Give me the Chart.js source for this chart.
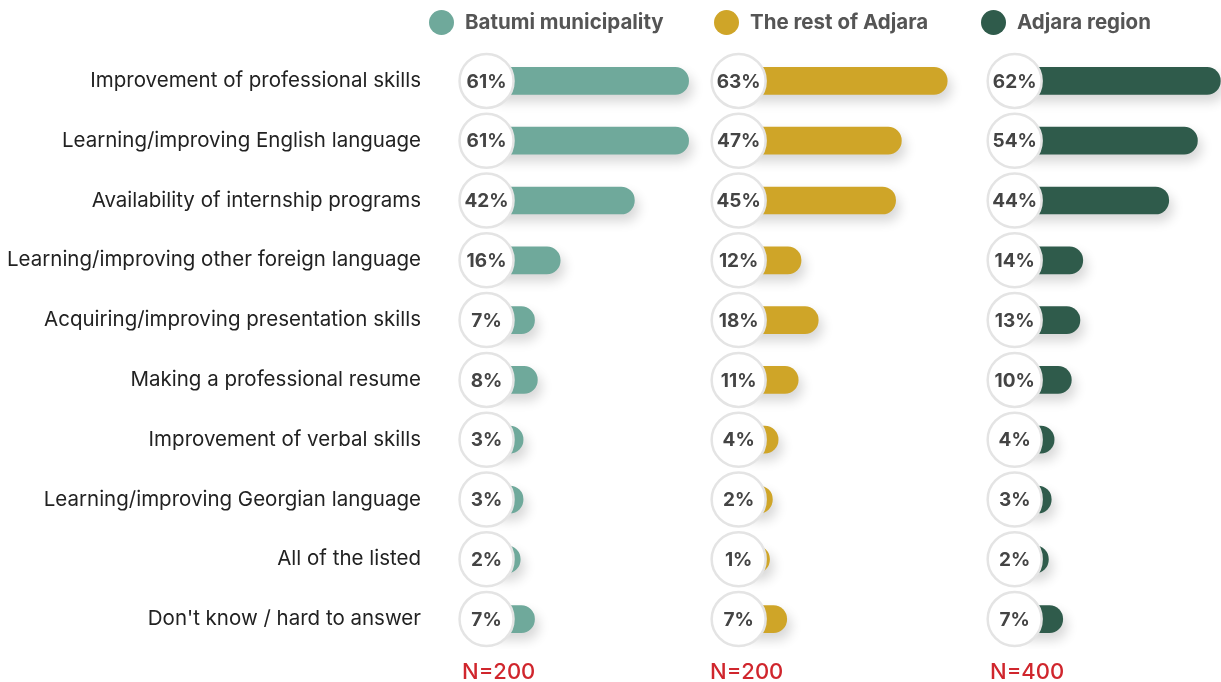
<!DOCTYPE html>
<html>
<head>
<meta charset="utf-8">
<script src="https://cdn.jsdelivr.net/npm/chart.js@4/dist/chart.umd.min.js"></script>
<style>
	html, body { margin: 0; padding: 0; background: #fff; }
	body { width: 1221px; height: 682px; position: relative; overflow: hidden; font-family: Inter, "Liberation Sans", sans-serif; }
	.panel { position: absolute; top: 0; height: 682px; }
	.legend { position: absolute; top: 8px; font-size: 20.5px; font-weight: 700; color: #555; white-space: nowrap; line-height: 28px; }
	.legend .dot { position: absolute; width: 25px; height: 25px; border-radius: 50%; left: -36px; top: 2px; }
	.count { position: absolute; top: 657px; font-size: 22px; font-weight: 500; color: #d0262d; line-height: 28px; }
</style>
</head>
<body>
<div class="panel" style="left:0;width:720px"><canvas id="chart_batumi"></canvas></div>
<div class="panel" style="left:700px;width:273px"><canvas id="chart_rest"></canvas></div>
<div class="panel" style="left:974px;width:275px"><canvas id="chart_region"></canvas></div>

<div class="legend" style="left:465px"><span class="dot" style="background:#6fa99b"></span>Batumi municipality</div>
<div class="legend" style="left:750px"><span class="dot" style="background:#cfa528"></span>The rest of Adjara</div>
<div class="legend" style="left:1017px"><span class="dot" style="background:#2f5b4b"></span>Adjara region</div>

<div class="count" style="left:462px">N=200</div>
<div class="count" style="left:710px">N=200</div>
<div class="count" style="left:990px">N=400</div>

<script>
const categories = [
	'Improvement of professional skills',
	'Learning/improving English language',
	'Availability of internship programs',
	'Learning/improving other foreign language',
	'Acquiring/improving presentation skills',
	'Making a professional resume',
	'Improvement of verbal skills',
	'Learning/improving Georgian language',
	'All of the listed',
	"Don't know / hard to answer"
];

const batumiValues = [61, 61, 42, 16, 7, 8, 3, 3, 2, 7];
const restValues = [63, 47, 45, 12, 18, 11, 4, 2, 1, 7];
const regionValues = [62, 54, 44, 14, 13, 10, 4, 3, 2, 7];

const BATUMI_COLOR = '#6fa99b';
const REST_COLOR = '#cfa528';
const REGION_COLOR = '#2f5b4b';

// Value axis runs from -10 so the circle sits in front of the bar start.
const X_MIN = -10;
const X_MAX = 72;
const CIRCLE_R = 27;

// Soft drop shadow under the bars.
const barShadow = {
	id: 'barShadow',
	beforeDatasetDraw(chart) {
		const ctx = chart.ctx;
		ctx.save();
		ctx.shadowColor = 'rgba(0, 0, 0, 0.16)';
		ctx.shadowBlur = 12;
		ctx.shadowOffsetX = 4;
		ctx.shadowOffsetY = 7;
	},
	afterDatasetDraw(chart) {
		chart.ctx.restore();
	}
};

// White value bubbles at the start of each bar.
const valueBubbles = {
	id: 'valueBubbles',
	afterDatasetsDraw(chart) {
		const ctx = chart.ctx;
		const xScale = chart.scales.x;
		const cx = xScale.getPixelForValue(0) - CIRCLE_R - 1;
		const meta = chart.getDatasetMeta(0);
		const values = chart.data.datasets[0].data;
		ctx.save();
		meta.data.forEach((bar, i) => {
			ctx.beginPath();
			ctx.arc(cx, bar.y, CIRCLE_R, 0, Math.PI * 2);
			ctx.fillStyle = '#ffffff';
			ctx.fill();
			ctx.lineWidth = 2.5;
			ctx.strokeStyle = '#e4e4e4';
			ctx.stroke();
			ctx.fillStyle = '#444';
			ctx.font = '700 19px Inter, "Liberation Sans", sans-serif';
			ctx.textAlign = 'center';
			ctx.textBaseline = 'middle';
			ctx.fillText(values[i] + '%', cx, bar.y + 1);
		});
		ctx.restore();
	}
};

// leftPad: room left of the plot so the bubble is not cut off.
function createPanel(canvasId, values, color, showLabels, leftPad) {
	const ctx = document.getElementById(canvasId).getContext('2d');

	return new Chart(ctx, {
		type: 'bar',
		data: {
			labels: categories,
			datasets: [{
				data: values,
				base: X_MIN,
				backgroundColor: color,
				barThickness: 27,
				borderRadius: 13.5,
				borderSkipped: false,
			}]
		},
		options: {
			indexAxis: 'y',
			responsive: true,
			maintainAspectRatio: false,
			animation: false,
			layout: {
				padding: { top: 51, bottom: 33, left: leftPad, right: 0 }
			},
			scales: {
				x: {
					display: false,
					min: X_MIN,
					max: X_MAX
				},
				y: {
					display: showLabels,
					grid: { display: false, drawTicks: false },
					border: { display: false },
					ticks: {
						padding: 65,
						color: '#222',
						font: { family: 'Inter, "Liberation Sans", sans-serif', size: 20.5 }
					},
					afterFit: (scale) => {
						if (!showLabels) return;
						scale.width = 486;
						scale.paddingTop = 0;
						scale.paddingBottom = 0;
					}
				}
			},
			plugins: {
				legend: { display: false },
				tooltip: { enabled: false }
			}
		},
		plugins: [barShadow, valueBubbles]
	});
}

createPanel('chart_batumi', batumiValues, BATUMI_COLOR, true, 0);
createPanel('chart_rest', restValues, REST_COLOR, false, 38);
createPanel('chart_region', regionValues, REGION_COLOR, false, 40);
</script>
</body>
</html>
